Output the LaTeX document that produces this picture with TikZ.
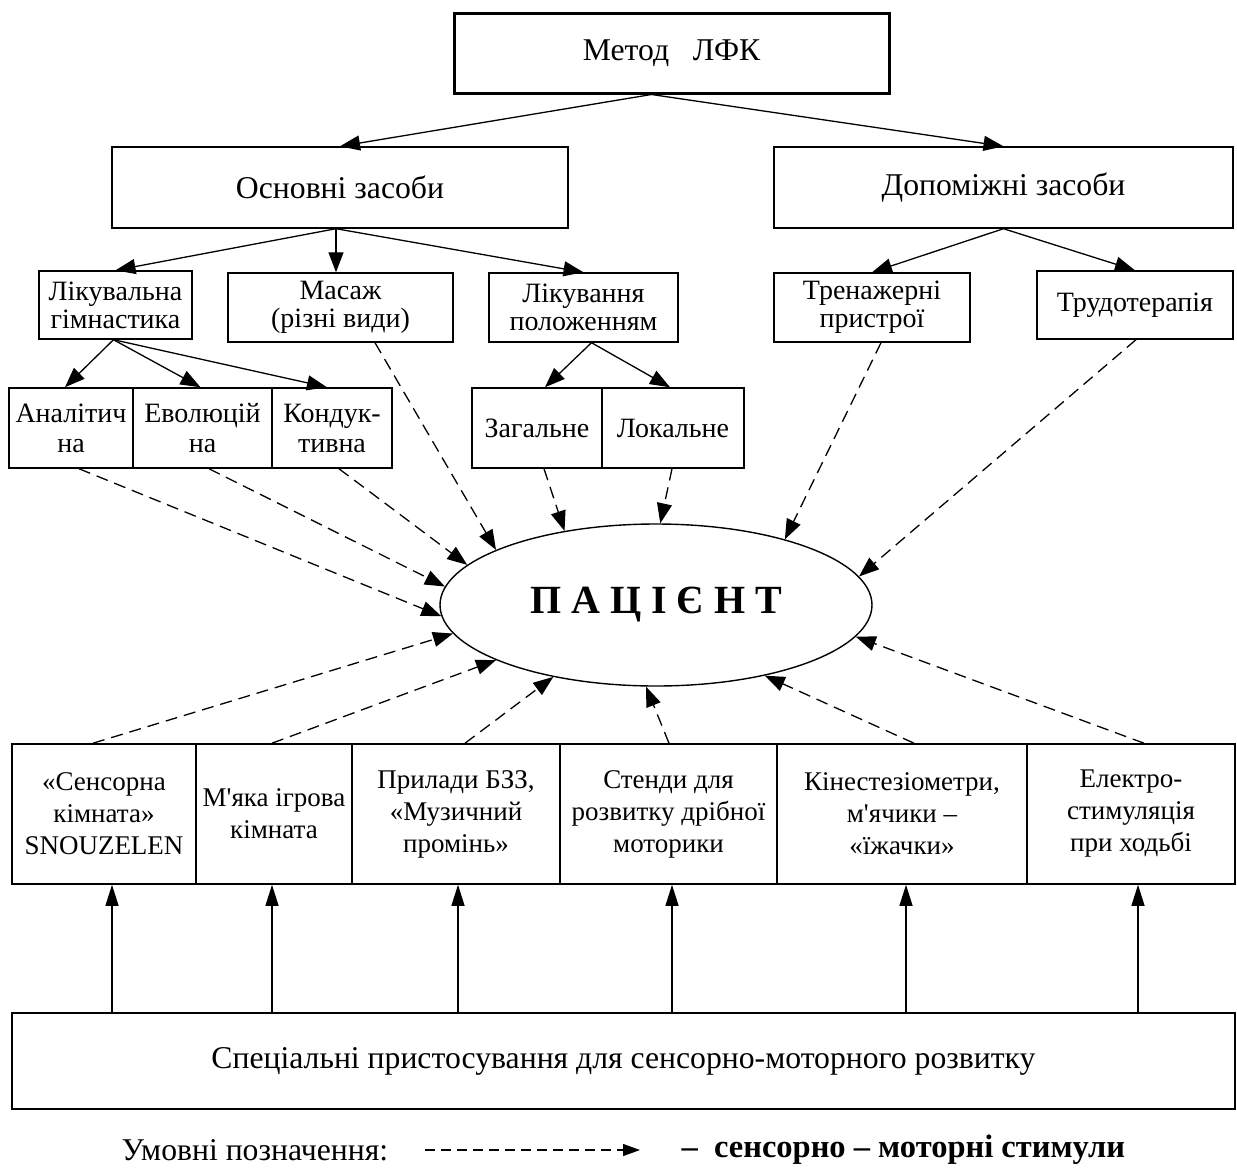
\documentclass[tikz,border=0pt]{standalone}
\usepackage{fontspec}
\setmainfont{Liberation Serif}[Ligatures=TeXOff]
\usetikzlibrary{arrows.meta,shapes.geometric,calc}
\begin{document}
\begin{tikzpicture}[x=1pt,y=-1pt,
  box/.style={draw,line width=1.4pt,rectangle,inner sep=0pt,align=center,font=\fontsize{28}{28}\selectfont},
  lvlthree/.style={box,line width=1.5pt,font=\fontsize{28}{30}\selectfont},
  bigbox/.style={box,font=\fontsize{31.7}{36}\selectfont},
  rowbox/.style={box,line width=1.6pt,minimum height=140,font=\fontsize{27}{32}\selectfont},
  arr/.style={-{Triangle[length=20pt,width=15pt]},line width=1.3pt},
  darr/.style={arr,dash pattern=on 12pt off 7pt},
]
\useasboundingbox (0,0) rectangle (1237,1173);
% top
\node[bigbox,line width=3pt,minimum width=435,minimum height=80] (metod) at (671.5,53) {Метод\ \ \ ЛФК};
\node[bigbox,minimum width=456,minimum height=81] (osn) at (340,187.5) {Основні засоби};
\node[bigbox,minimum width=459,minimum height=81] (dop) at (1003.5,187.5) {Допоміжні засоби};
% level 2
\node[box,minimum width=153,minimum height=68] (lik) at (115.5,305) {Лікувальна\\гімнастика};
\node[box,minimum width=225,minimum height=69] (mas) at (340.5,307.5) {Масаж\\(різні види)};
\node[box,minimum width=189,minimum height=69] (pol) at (583.5,307.5) {Лікування\\положенням};
\node[box,minimum width=196,minimum height=69] (tren) at (872,307.5) {Тренажерні\\пристрої};
\node[box,minimum width=196,minimum height=68] (trud) at (1135,305) {Трудотерапія};
% level 3
\node[lvlthree,minimum width=124,minimum height=80] (anal) at (71,428) {Аналітич\\на};
\node[lvlthree,minimum width=139,minimum height=80] (evol) at (202.5,428) {Еволюцій\\на};
\node[lvlthree,minimum width=120,minimum height=80] (kond) at (332,428) {Кондук-\\тивна};
\node[lvlthree,minimum width=130,minimum height=80] (zag) at (537,428) {Загальне};
\node[lvlthree,minimum width=142,minimum height=80] (lok) at (673,428) {Локальне};
% patient
\node[draw,ellipse,line width=1.4pt,minimum width=432,minimum height=162,inner sep=0pt,
      font=\fontsize{40}{42}\selectfont\bfseries] (pat) at (656,605) {П\ А\ Ц\ І\ Є\ Н\ Т};
% row
\node[rowbox,minimum width=184] (sens) at (104,814) {«Сенсорна\\кімната»\\SNOUZELEN};
\node[rowbox,minimum width=156] (myak) at (274,814) {М'яка ігрова\\кімната};
\node[rowbox,minimum width=208] (pril) at (456,814) {Прилади БЗЗ,\\«Музичний\\промінь»};
\node[rowbox,minimum width=217] (stend) at (668.5,814) {Стенди для\\розвитку дрібної\\моторики};
\node[rowbox,minimum width=250] (kin) at (902,814) {Кінестезіометри,\\м'ячики –\\«їжачки»};
\node[rowbox,minimum width=208] (elek) at (1131,814) {Електро-\\стимуляція\\при ходьбі};
\node[bigbox,line width=1.8pt,minimum width=1223,minimum height=96] (spec) at (623.5,1061) {Спеціальні пристосування для сенсорно-моторного розвитку};
% solid arrows
\coordinate (m0) at ($(metod.south)+(-20,0)$);
\draw[arr] (m0) -- (osn.north);
\draw[arr] (m0) -- (dop.north);
\coordinate (o0) at ($(osn.south)+(-4,0)$);
\draw[arr] (o0) -- (lik.north);
\draw[arr] (o0) -- (o0 |- mas.north);
\draw[arr] (o0) -- (pol.north);
\draw[arr] (dop.south) -- (tren.north);
\draw[arr] (dop.south) -- (trud.north);
\coordinate (l0) at ($(lik.south)+(-2,0)$);
\draw[arr] (l0) -- ($(anal.north)+(-6,0)$);
\draw[arr] (l0) -- ($(evol.north)+(-2,0)$);
\draw[arr] (l0) -- ($(kond.north)+(-5,0)$);
\coordinate (p0) at ($(pol.south)+(8,0)$);
\draw[arr] (p0) -- ($(zag.north)+(8,0)$);
\draw[arr] (p0) -- ($(lok.north)+(-3,0)$);
% dashed arrows to patient
\draw[darr] ($(anal.south)+(8,0)$) -- (pat.183);
\draw[darr] ($(evol.south)+(6.5,0)$) -- (pat.175);
\draw[darr] ($(kond.south)+(7,0)$) -- (pat.168);
\draw[darr] ($(mas.south)+(34.5,0)$) -- (pat.161);
\draw[darr] ($(zag.south)+(7,0)$) -- (pat.141);
\draw[darr] ($(lok.south)+(-1,0)$) -- (pat.87);
\draw[darr] ($(tren.south)+(9,0)$) -- (pat.27);
\draw[darr] ($(trud.south)+(1,0)$) -- (pat.8);
\draw[darr] ($(sens.north)+(-11,0)$) -- (pat.188);
\draw[darr] ($(myak.north)+(-2,0)$) -- (pat.199);
\draw[darr] ($(pril.north)+(9,0)$) -- (pat.215);
\draw[darr] ($(stend.north)+(0.5,0)$) -- (pat.263);
\draw[darr] ($(kin.north)+(12,0)$) -- (pat.327);
\draw[darr] ($(elek.north)+(13,0)$) -- (pat.351);
% up arrows
\foreach \n/\d [count=\i] in {sens/8,myak/-2,pril/2,stend/3.5,kin/4,elek/7}{
  \coordinate (u\i) at ($(\n.south)+(\d,0)$);
  \draw[-{Triangle[length=21pt,width=13pt]},line width=1.3pt] (spec.north -| u\i) -- (u\i);
}
% legend
\node[font=\fontsize{31.7}{36}\selectfont,anchor=west] (leg1) at (118,1150) {Умовні позначення:};
\coordinate (la) at (425,1150);
\coordinate (lb) at (640,1150);
\draw[-{Triangle[length=17pt,width=12pt]},line width=1.3pt,dash pattern=on 10pt off 6pt] (la) -- (lb);
\node[font=\fontsize{32.5}{36}\selectfont\bfseries,anchor=west] (leg2) at (678,1150) {–\ \ сенсорно – моторні стимули};
\end{tikzpicture}
\end{document}
